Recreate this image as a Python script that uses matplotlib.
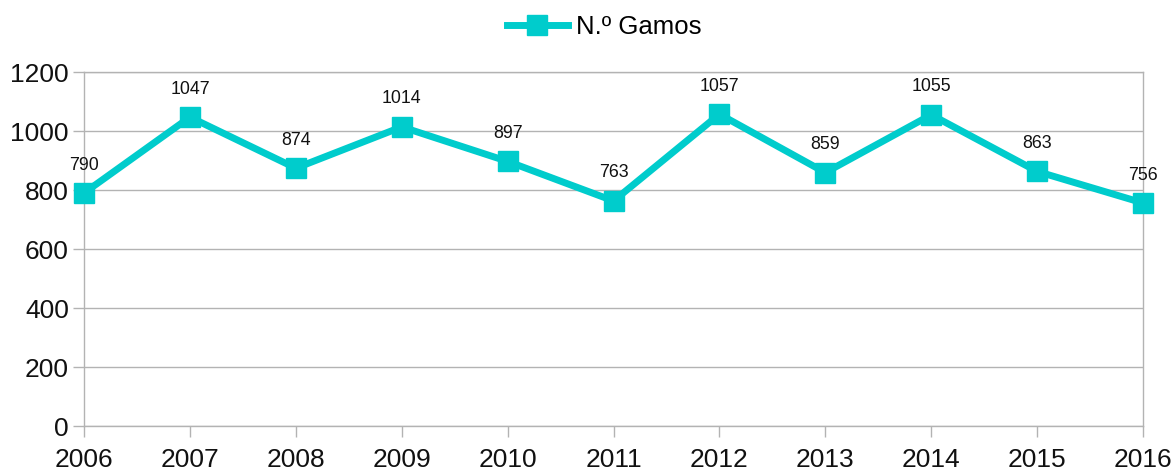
import matplotlib
matplotlib.use("Agg")
import matplotlib.pyplot as plt

#__________________DATA

years = ['2006', '2007', '2008', '2009', '2010', '2011', '2012', '2013', '2014', '2015', '2016']
gamos = [790, 1047, 874, 1014, 897, 763, 1057, 859, 1055, 863, 756]
yticks = [0, 200, 400, 600, 800, 1000, 1200]

#__________________FIGURE

plt.rcParams['font.family'] = ['Liberation Sans', 'DejaVu Sans']
teal = '#00cccc'
grid_c = '#b3b3b3'

fig = plt.figure(figsize=(11.74, 4.70), dpi=100)
ax = fig.add_axes([0.0716, 0.0936, 0.9020, 0.7532])

x = list(range(len(years)))
ax.plot(x, gamos, color=teal, lw=5, marker='s', ms=14, mec=teal, mfc=teal,
        label='N.º Gamos', zorder=3, clip_on=False)

for i, v in zip(x, gamos):
    ax.annotate('%d' % v, xy=(i, v), xycoords='data',
                xytext=(0, 14), textcoords='offset points',
                ha='center', va='bottom', fontsize=12.8, color='#111111')

ax.set_xlim(0, len(years) - 1)
ax.set_ylim(0, 1200)
ax.set_xticks(x)
ax.set_xticklabels(years)
ax.set_yticks(yticks)
ax.yaxis.grid(True, color=grid_c, lw=1)
ax.set_axisbelow(True)

for s in ax.spines.values():
    s.set_color(grid_c)
    s.set_linewidth(1)

ax.tick_params(axis='both', colors=grid_c, labelcolor='#111111', labelsize=19,
               length=8, width=1)
ax.tick_params(axis='x', pad=8)
ax.tick_params(axis='y', pad=3)

leg = fig.legend(loc='upper center', bbox_to_anchor=(0.5145, 1.018), frameon=False,
                 fontsize=18.5, handlelength=2.4, handletextpad=0.3)

plt.savefig('out.png', dpi=100)
plt.close()
